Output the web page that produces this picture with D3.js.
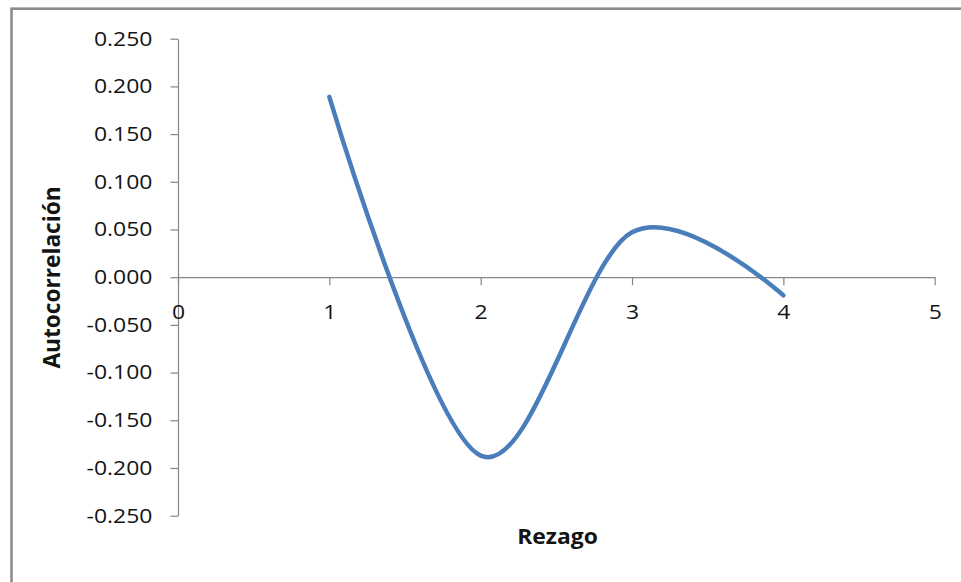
<!DOCTYPE html>
<html>
<head>
<meta charset="utf-8">
<script src="https://cdnjs.cloudflare.com/ajax/libs/d3/7.8.5/d3.min.js"></script>
<style>
  body { margin: 0; background: #fff; }
  svg { display: block; }
  .axis path, .axis line { stroke: #868686; stroke-width: 1.2; }
  .axis text { font-family: "Open Sans", sans-serif; font-size: 19.8px; fill: #141414; }
  .title { font-family: "Open Sans", sans-serif; font-size: 21px; font-weight: bold; fill: #141414; }
</style>
</head>
<body>
<div id="chart"></div>
<script>
// data
const lags = [1, 2, 3, 4];
const autocorr = [0.189, -0.187, 0.047, -0.019];
const xTicks = [0, 1, 2, 3, 4, 5];
const yTicks = [0.25, 0.2, 0.15, 0.1, 0.05, 0, -0.05, -0.1, -0.15, -0.2, -0.25];
const yLabels = [`0.250`, `0.200`, `0.150`, `0.100`, `0.050`, `0.000`, `-0.050`, `-0.100`, `-0.150`, `-0.200`, `-0.250`];
const xTitle = `Rezago`;
const yTitle = `Autocorrelación`;

let W = 961, H = 582;
let svg = d3.select(`#chart`).append(`svg`)
    .attr(`width`, W)
    .attr(`height`, H);

// chart area border (cropped: only top and left show)
svg.append(`rect`)
    .attr(`x`, 11.5).attr(`y`, 8.7)
    .attr(`width`, W + 20).attr(`height`, H + 20)
    .attr(`fill`, `none`)
    .attr(`stroke`, `#8c8c8c`)
    .attr(`stroke-width`, 2.6);

let x = d3.scaleLinear().domain([0, 5]).range([178, 934.7]);
let y = d3.scaleLinear().domain([-0.25, 0.25]).range([515.7, 38.7]);

// stretch text horizontally around its anchor
function stretch(sel, sx) {
    sel.each(function () {
        let t = d3.select(this);
        let tx = +t.attr(`x`) || 0;
        t.attr(`x`, 0).attr(`transform`, `translate(${tx},0) scale(${sx},1)`);
    });
}

// Y axis
let yAxis = svg.append(`g`)
    .attr(`class`, `y axis`)
    .attr(`transform`, `translate(${x(0)},0)`)
    .call(d3.axisLeft(y)
        .tickValues(yTicks)
        .tickFormat((d, i) => yLabels[i])
        .tickSize(7.5)
        .tickSizeOuter(0)
        .tickPadding(18));
stretch(yAxis.selectAll(`text`), 1.16);

// X axis, crossing at zero
let xAxis = svg.append(`g`)
    .attr(`class`, `x axis`)
    .attr(`transform`, `translate(0,${y(0)})`)
    .call(d3.axisBottom(x)
        .tickValues(xTicks)
        .tickFormat(d3.format(`d`))
        .tickSize(8)
        .tickSizeOuter(0)
        .tickPadding(20));
stretch(xAxis.selectAll(`text`), 1.16);

// smoothed line
let points = lags.map((l, i) => [l, autocorr[i]]);
let valueline = d3.line()
    .x(d => x(d[0]))
    .y(d => y(d[1]))
    .curve(d3.curveCardinal.tension(0));

svg.append(`path`)
    .datum(points)
    .attr(`fill`, `none`)
    .attr(`stroke`, `#4A7EBB`)
    .attr(`stroke-width`, 4.5)
    .attr(`stroke-linecap`, `round`)
    .attr(`d`, valueline);

// axis titles
svg.append(`text`)
    .attr(`class`, `title`)
    .attr(`text-anchor`, `middle`)
    .attr(`transform`, `translate(557.5,544.3) scale(1.09,1)`)
    .text(xTitle);

svg.append(`text`)
    .attr(`class`, `title`)
    .attr(`text-anchor`, `middle`)
    .attr(`transform`, `translate(59.5,277.5) rotate(-90) scale(1.08,1.1)`)
    .text(yTitle);
</script>
</body>
</html>
